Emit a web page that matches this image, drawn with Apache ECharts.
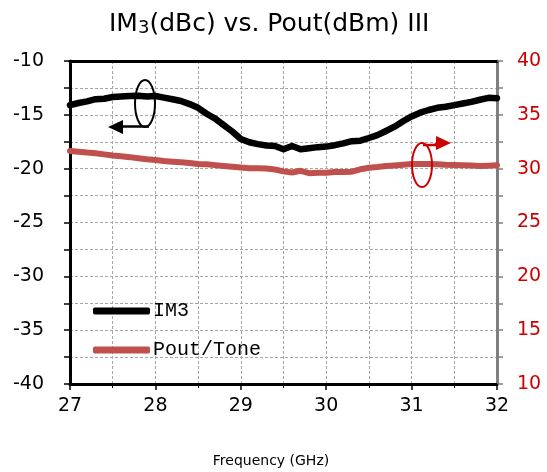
<!DOCTYPE html>
<html>
<head>
<meta charset="utf-8">
<script src="https://cdn.jsdelivr.net/npm/echarts@6/dist/echarts.min.js"></script>
<style>html,body{margin:0;padding:0;background:#fff}#c{width:547px;height:472px}</style>
</head>
<body>
<div id="c"></div>
<script>
const freq = [27.0,27.1,27.2,27.3,27.4,27.5,27.6,27.7,27.8,27.9,28.0,28.1,28.2,28.3,28.4,28.5,28.6,28.7,28.8,28.9,29.0,29.1,29.2,29.3,29.4,29.5,29.6,29.7,29.8,29.9,30.0,30.1,30.2,30.3,30.4,30.5,30.6,30.7,30.8,30.9,31.0,31.1,31.2,31.3,31.4,31.5,31.6,31.7,31.8,31.9,32.0];
const im3 = [-14.1,-13.9,-13.75,-13.55,-13.5,-13.35,-13.3,-13.25,-13.22,-13.3,-13.25,-13.4,-13.55,-13.72,-14.0,-14.35,-14.9,-15.35,-15.95,-16.55,-17.25,-17.55,-17.72,-17.85,-17.9,-18.2,-17.9,-18.2,-18.1,-18.0,-17.95,-17.82,-17.65,-17.45,-17.4,-17.15,-16.88,-16.5,-16.1,-15.6,-15.15,-14.8,-14.55,-14.35,-14.25,-14.1,-13.95,-13.8,-13.6,-13.42,-13.45];
const poutTone = [31.65,31.58,31.5,31.44,31.33,31.22,31.15,31.07,30.97,30.87,30.8,30.71,30.65,30.59,30.52,30.44,30.4,30.33,30.25,30.18,30.1,30.04,30.05,30.02,29.92,29.75,29.65,29.8,29.58,29.62,29.63,29.68,29.68,29.72,29.94,30.08,30.15,30.24,30.3,30.36,30.43,30.44,30.44,30.4,30.36,30.34,30.32,30.3,30.25,30.28,30.31];
const xTicks = [27,28,29,30,31,32];
const leftTicks = [-40,-35,-30,-25,-20,-15,-10];
const rightTicks = [10,15,20,25,30,35,40];
const seriesNames = ['IM3','Pout/Tone'];

const chart = echarts.init(document.getElementById('c'));
const gridLine = {show:true,lineStyle:{color:'#a6a6a6',type:[3,2],width:1}};
const labelFont = 'DejaVu Sans';
chart.setOption({
  animation:false,
  title:{
    text:'IM{s|3}(dBc) vs. Pout(dBm) III',
    left:104, top:7,
    textStyle:{fontFamily:labelFont,fontSize:25,fontWeight:'normal',color:'#000',
      rich:{s:{fontFamily:labelFont,fontSize:18,color:'#000',verticalAlign:'bottom'}}}
  },
  grid:{left:70,right:50,top:61,bottom:88},
  legend:{
    orient:'vertical', left:88, top:296, itemWidth:57, itemHeight:7, itemGap:19,
    icon:'roundRect',
    textStyle:{fontFamily:'Liberation Mono',fontSize:20,color:'#000',padding:[0,0,0,-2]},
    data:seriesNames
  },
  xAxis:[{
    type:'value', min:xTicks[0], max:xTicks[xTicks.length-1], interval:1,
    axisLine:{lineStyle:{color:'#000',width:3}},
    axisTick:{show:true,inside:false,length:6,lineStyle:{color:'#000',width:1.5}},
    minorTick:{show:true,splitNumber:2,length:4,lineStyle:{color:'#000',width:1}},
    axisLabel:{color:'#000',fontFamily:labelFont,fontSize:19,margin:13},
    splitLine:gridLine,
    minorSplitLine:gridLine
  },{
    type:'value', position:'top', min:27, max:32,
    axisLine:{show:true,lineStyle:{color:'#000',width:3}},
    axisTick:{show:false}, axisLabel:{show:false}, splitLine:{show:false}
  }],
  yAxis:[{
    type:'value', min:leftTicks[0], max:leftTicks[leftTicks.length-1], interval:5,
    axisLine:{show:true,lineStyle:{color:'#000',width:3}},
    axisTick:{show:true,inside:false,length:6,lineStyle:{color:'#000',width:1.5}},
    minorTick:{show:true,splitNumber:2,length:6,lineStyle:{color:'#000',width:1.5}},
    axisLabel:{color:'#000',fontFamily:labelFont,fontSize:19,margin:26},
    splitLine:gridLine,
    minorSplitLine:gridLine
  },{
    type:'value', position:'right', min:rightTicks[0], max:rightTicks[rightTicks.length-1], interval:5,
    axisLine:{show:true,lineStyle:{color:'#7f7f7f',width:3}},
    axisTick:{show:true,inside:false,length:6,lineStyle:{color:'#7f7f7f',width:1.5}},
    minorTick:{show:true,splitNumber:2,length:6,lineStyle:{color:'#7f7f7f',width:1.5}},
    axisLabel:{color:'#cc0000',fontFamily:labelFont,fontSize:19,margin:20},
    splitLine:{show:false}
  }],
  series:[{
    name:seriesNames[0], type:'line', xAxisIndex:0, yAxisIndex:0,
    data:freq.map((f,i)=>[f,im3[i]]), showSymbol:false, symbol:'none',
    lineStyle:{color:'#000',width:6.5,cap:'round',join:'round'}, itemStyle:{color:'#000'}, z:3
  },{
    name:seriesNames[1], type:'line', xAxisIndex:0, yAxisIndex:1,
    data:freq.map((f,i)=>[f,poutTone[i]]), showSymbol:false, symbol:'none',
    lineStyle:{color:'#c0504d',width:6,cap:'round',join:'round'}, itemStyle:{color:'#c0504d'}, z:2
  }],
  graphic:[
    {type:'ellipse',shape:{cx:145,cy:103.5,rx:10,ry:23.5},style:{fill:'none',stroke:'#000',lineWidth:2},z:10},
    {type:'line',shape:{x1:149,y1:126.5,x2:122,y2:126.5},style:{stroke:'#000',lineWidth:2.5},z:10},
    {type:'polygon',shape:{points:[[108,127],[123,120],[123,134]]},style:{fill:'#000'},z:10},
    {type:'ellipse',shape:{cx:422,cy:165,rx:10,ry:22},style:{fill:'none',stroke:'#cc0000',lineWidth:2},z:10},
    {type:'polyline',shape:{points:[[423,145],[436,145],[436,143]]},style:{stroke:'#cc0000',lineWidth:2.5,fill:'none'},z:10},
    {type:'polygon',shape:{points:[[451,143],[436,136],[436,150]]},style:{fill:'#cc0000'},z:10},
    {type:'text',x:271,y:461,style:{text:'Frequency (GHz)',fontFamily:labelFont,fontSize:14,fill:'#000',align:'center',verticalAlign:'middle'}}
  ]
});
</script>
</body>
</html>
